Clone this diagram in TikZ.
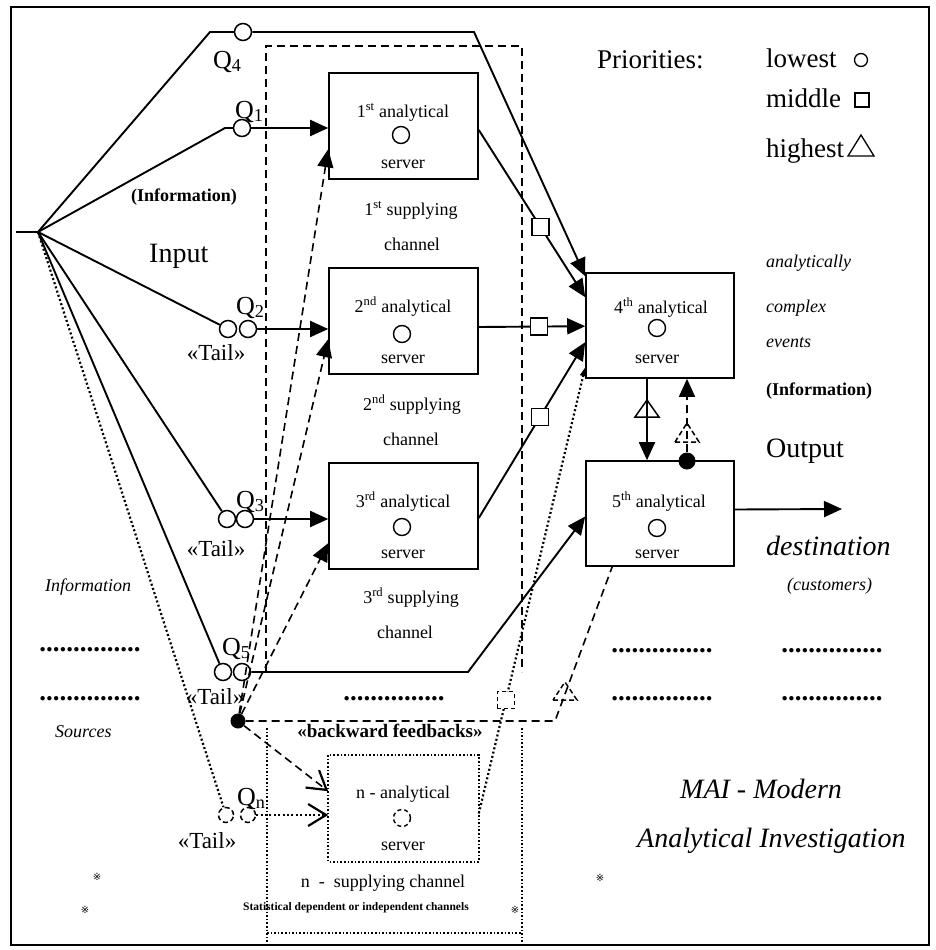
\documentclass[tikz,border=0pt]{standalone}
\usepackage{fontspec}
\setmainfont{Liberation Serif}
\newfontfamily\symfnt{DejaVu Sans}
\usetikzlibrary{arrows.meta}
\begin{document}
\begin{tikzpicture}[x=1pt,y=-1pt,
  mybox/.style={draw,line width=1.6pt,minimum width=149pt,minimum height=106pt,inner sep=0pt},
  qc/.style={circle,draw,line width=1.5pt,minimum size=17pt,inner sep=0pt},
  qcd/.style={circle,draw,line width=1.5pt,minimum size=15pt,inner sep=0pt,dash pattern=on 5pt off 3pt},
  sc/.style={circle,draw,line width=1.4pt,minimum size=17pt,inner sep=0pt},
  sq/.style={draw,line width=1.4pt,fill=white,minimum size=17pt,inner sep=0pt},
  sqd/.style={draw,line width=1.4pt,fill=white,minimum size=17pt,inner sep=0pt,dash pattern=on 4pt off 3pt},
  conn/.style={line width=1.9pt},
  arr/.style={-{Triangle[length=18pt,width=16pt]}},
  smallarr/.style={-{Triangle[length=9pt,width=6pt]}},
  barb/.style={-{Straight Barb[length=18pt,width=22pt,line width=2.2pt]}},
  dsh/.style={line width=1.6pt,dash pattern=on 8pt off 5pt},
  dts/.style={line width=2.2pt,dash pattern=on 2pt off 2.4pt},
  dtsthin/.style={line width=1.6pt,dash pattern=on 1.6pt off 2pt},
  tb/.style={inner sep=0pt,anchor=base,font=\fontsize{18}{20}\selectfont},
  tbw/.style={inner sep=0pt,anchor=base west,font=\fontsize{18}{20}\selectfont},
  tbig/.style={inner sep=0pt,anchor=base west,font=\fontsize{27}{30}\selectfont},
  tq/.style={inner sep=0pt,anchor=base west,font=\fontsize{26}{28}\selectfont},
  ttail/.style={inner sep=0pt,anchor=base,font=\fontsize{23}{25}\selectfont},
  dotrow/.style={inner sep=0pt,font=\fontsize{27}{30}\selectfont\bfseries},
  star/.style={inner sep=0pt,font=\symfnt\fontsize{10}{10}\selectfont},
]
\useasboundingbox (0,0) rectangle (936,950);
\draw[line width=2pt] (11,7) rectangle (929,945);

% servers
\node[mybox] (b1) at (403.5,126) {};
\node[mybox] (b2) at (403.5,321) {};
\node[mybox] (b3) at (403.5,516) {};
\node[mybox,minimum width=148pt,minimum height=105pt] (b4) at (660,325.5) {};
\node[mybox,minimum width=148pt,minimum height=105pt] (b5) at (660,513.5) {};
\node[mybox,draw=none,minimum height=105pt] (bn) at (403.5,808.5) {};
\draw[dtsthin] (bn.north west) rectangle (bn.south east);

% circles inside servers
\node[sc] (c1) at (401,135) {};
\node[sc] (c2) at (402,334) {};
\node[sc] (c3) at (402,527) {};
\node[sc] (c4) at (657,328) {};
\node[sc] (c5) at (657,528) {};
\node[sc,dash pattern=on 4pt off 3pt] (cn) at (402,818) {};

% server texts
\node[tb] (t1a) at (403,117) {1\textsuperscript{st} analytical};
\node[tb] (t1b) at (403,168) {server};
\node[tb] (t1c) at (411,215) {1\textsuperscript{st} supplying};
\node[tb] (t1d) at (412,250) {channel};
\node[tb] (t2a) at (403,312) {2\textsuperscript{nd} analytical};
\node[tb] (t2b) at (403,363) {server};
\node[tb] (t2c) at (412,410) {2\textsuperscript{nd} supplying};
\node[tb] (t2d) at (411,445) {channel};
\node[tb] (t3a) at (403,507) {3\textsuperscript{rd} analytical};
\node[tb] (t3b) at (403,558) {server};
\node[tb] (t3c) at (411,603) {3\textsuperscript{rd} supplying};
\node[tb] (t3d) at (405,638) {channel};
\node[tb] (t4a) at (661,313) {4\textsuperscript{th} analytical};
\node[tb] (t4b) at (657,363) {server};
\node[tb] (t5a) at (659,507) {5\textsuperscript{th} analytical};
\node[tb] (t5b) at (657,558) {server};
\node[tb] (tna) at (403,798) {n - analytical};
\node[tb] (tnb) at (403,850) {server};
\node[tb] (tnc) at (383,887) {n\ \ -\ \ supplying channel};
\node[inner sep=0pt,anchor=base,font=\fontsize{11.5}{12}\selectfont\bfseries] (tnd) at (356,910) {Statistical dependent or independent channels};

% queue circles
\node[qc] (q4) at (243,32) {};
\node[qc] (q1) at (242,128) {};
\node[qc] (q2a) at (228,329) {};
\node[qc] (q2b) at (248,329) {};
\node[qc] (q3a) at (227,519) {};
\node[qc] (q3b) at (245,519) {};
\node[qc] (q5a) at (223,672) {};
\node[qc] (q5b) at (242,672) {};
\node[qcd] (qna) at (226,815) {};
\node[qcd] (qnb) at (248,815) {};

\coordinate (fan) at (38,232);
\coordinate (fanL) at (16,232);
\coordinate (k4) at (210,32);
\coordinate (e4) at (474,32);
\coordinate (k1) at (225,128);
\coordinate (k5) at (468,672);
\coordinate (fb) at (555,721);
\coordinate (outend) at (842,509);

% input fan
\draw[conn] (fanL) -- (fan);
\draw[conn] (fan) -- (k4) -- (q4);
\draw[conn,arr] (q4) -- (e4) -- ([yshift=-4pt]b4.north west);
\draw[conn] (fan) -- (k1) -- (q1);
\draw[conn,arr] (q1) -- (q1 -| b1.west);
\draw[conn] (fan) -- (q2a);
\draw[conn,arr] (q2b) -- (q2b -| b2.west);
\draw[conn] (fan) -- (q3a);
\draw[conn,arr] (q3b) -- (q3b -| b3.west);
\draw[conn] (fan) -- (q5a);
\draw[conn,arr] (q5b) -- (k5) -- ([yshift=-3pt]b5.west);
\draw[dts] (fan) -- (qna);
\draw[dts,barb] (qnb) -- (qnb -| bn.west);

% channel frames
\draw[dsh] (266,672) -- (266,46) -- (522,46) -- (522,672);
\draw[dtsthin] (267,728) -- (267,945) (522,728) -- (522,945) (267,933) -- (522,933);

% into 4th server
\draw[conn,arr] ([yshift=-4pt]b1.east) -- ([yshift=-25pt]b4.north west) node[sq,pos=0.58] (m1) {};
\draw[conn,arr] ([yshift=-6pt]b2.east) -- ([yshift=-54pt]b4.north west) node[sq,pos=0.565] (m2) {};
\draw[conn,arr] ([yshift=-2pt]b3.east) -- ([yshift=-70pt]b4.north west) node[sq,pos=0.575] (m3) {};
\draw[dts,smallarr] ([yshift=-5pt]bn.east) -- ([yshift=-95pt]b4.north west) node[sqd,pos=0.254] (m4) {};

% backward feedbacks
\node[circle,fill,minimum size=15pt,inner sep=0pt] (dot) at (238,721) {};
\draw[dsh,arr] (dot) -- ([yshift=-77pt]b1.north west);
\draw[dsh,arr] (dot) -- ([yshift=-72pt]b2.north west);
\draw[dsh,arr] (dot) -- ([yshift=-81pt]b3.north west);
\draw[dsh,barb] (dot) -- ([yshift=-36pt]bn.north west);
\draw[dsh] (dot) -- (fb) -- ([xshift=27pt]b5.south west);
\draw[line width=1.5pt,dash pattern=on 5pt off 3pt] (553,700) -- (577,700) -- (565,682) -- cycle;

% 4th <-> 5th
\draw[conn,arr] ([xshift=-13pt]b4.south) -- ([xshift=-13pt]b5.north);
\draw[line width=1.5pt] (635,417) -- (659,417) -- (647,400) -- cycle;
\node[circle,fill,minimum size=17pt,inner sep=0pt] (dot2) at (687,461) {};
\draw[dsh,arr] (dot2) -- (dot2 |- b4.south);
\draw[line width=1.5pt,dash pattern=on 5pt off 3pt] (675,442) -- (699,442) -- (687,423) -- cycle;

% output
\draw[conn,arr] ([yshift=4pt]b5.east) -- (outend);

% legend
\node[tbig] (pri) at (597,68) {Priorities:};
\node[tbig] (low) at (766,67) {lowest};
\node[tbig] (mid) at (766,107) {middle};
\node[tbig] (hig) at (766,157) {highest};
\node[circle,draw,line width=1.3pt,minimum size=13pt,inner sep=0pt] (lc) at (861,60) {};
\node[draw,line width=1.3pt,minimum size=14pt,inner sep=0pt] (ls) at (862,100) {};
\draw[line width=1.3pt] (848,156) -- (874,156) -- (861,135) -- cycle;

% Q labels
\node[tq] (lq4) at (213,68) {Q\textsubscript{4}};
\node[tq] (lq1) at (235,118) {Q\textsubscript{1}};
\node[tq] (lq2) at (236,314) {Q\textsubscript{2}};
\node[tq] (lq3) at (236,508) {Q\textsubscript{3}};
\node[tq] (lq5) at (222,655) {Q\textsubscript{5}};
\node[tq] (lqn) at (237,805) {Q\textsubscript{n}};
\node[ttail] (tl2) at (216,360) {«Tail»};
\node[ttail] (tl3) at (216,556) {«Tail»};
\node[ttail] (tl5) at (215,704) {«Tail»};
\node[ttail] (tln) at (207,848) {«Tail»};

% other labels
\node[inner sep=0pt,anchor=base,font=\fontsize{18}{20}\selectfont\bfseries] (inf1) at (184,201) {(Information)};
\node[inner sep=0pt,anchor=base west,font=\fontsize{28}{30}\selectfont] (inp) at (149,262) {Input};
\node[inner sep=0pt,anchor=base west,font=\fontsize{18}{20}\selectfont\itshape] (srcA) at (45,591) {Information};
\node[inner sep=0pt,anchor=base west,font=\fontsize{18}{20}\selectfont\itshape] (srcB) at (55,737) {Sources};
\node[inner sep=0pt,anchor=base,font=\fontsize{19}{20}\selectfont\bfseries] (bf) at (390,737) {«backward feedbacks»};

\node[tbw,font=\fontsize{18}{20}\selectfont\itshape] (r1) at (766,267) {analytically};
\node[tbw,font=\fontsize{18}{20}\selectfont\itshape] (r2) at (766,312) {complex};
\node[tbw,font=\fontsize{18}{20}\selectfont\itshape] (r3) at (766,347) {events};
\node[tbw,font=\fontsize{18}{20}\selectfont\bfseries] (r4) at (766,395) {(Information)};
\node[inner sep=0pt,anchor=base west,font=\fontsize{28}{30}\selectfont] (outp) at (766,457) {Output};
\node[inner sep=0pt,anchor=base west,font=\fontsize{28}{30}\selectfont\itshape] (dest) at (766,555) {destination};
\node[tbw,font=\fontsize{18}{20}\selectfont\itshape] (cust) at (787,590) {(customers)};

\node[inner sep=0pt,anchor=base west,font=\fontsize{28}{30}\selectfont\itshape] (mai1) at (680,798) {MAI - Modern};
\node[inner sep=0pt,anchor=base west,font=\fontsize{28}{30}\selectfont\itshape] (mai2) at (637,847) {Analytical Investigation};

% dot rows
\node[dotrow] (d1) at (90,650) {...............};
\node[dotrow] (d2) at (90,699) {...............};
\node[dotrow] (d3) at (394,699) {...............};
\node[dotrow] (d4) at (662,651) {...............};
\node[dotrow] (d5) at (662,699) {...............};
\node[dotrow] (d6) at (832,651) {...............};
\node[dotrow] (d7) at (832,699) {...............};

% asterisks
\node[star] (s1) at (97,877) {※};
\node[star] (s2) at (85,910) {※};
\node[star] (s3) at (600,878) {※};
\node[star] (s4) at (515,910) {※};
\end{tikzpicture}
\end{document}
